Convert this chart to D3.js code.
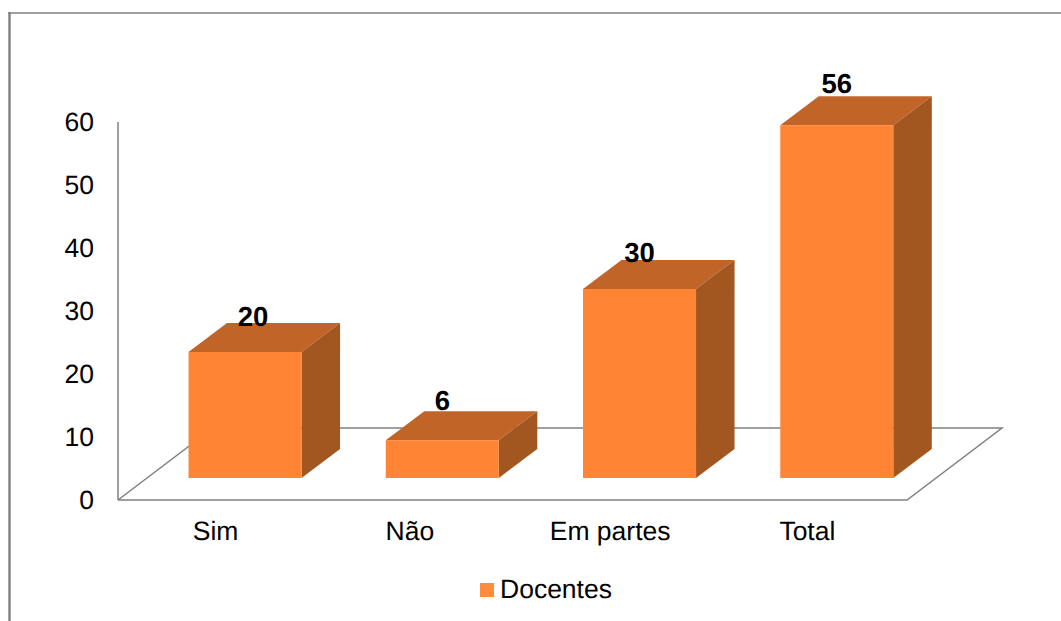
<!DOCTYPE html>
<html>
<head>
<meta charset="utf-8">
<script src="https://cdn.jsdelivr.net/npm/d3@7/dist/d3.min.js"></script>
<style>
html,body{margin:0;padding:0;background:#fff;overflow:hidden}
svg{display:block}
text{font-family:"Liberation Sans",Arial,sans-serif;text-rendering:geometricPrecision}
</style>
</head>
<body>
<svg id="chart" width="1061" height="621"></svg>
<script>
const categories = ["Sim", "Não", "Em partes", "Total"];
const docentes = [20, 6, 30, 56];
const yTicks = [0, 10, 20, 30, 40, 50, 60];
const seriesName = "Docentes";

const svg = d3.select("#chart");
const lineColor = "#808080";
const fontSize = 26.5;
const depth = {dx: 38.5, dy: -29};
const floorLift = 22;

// Bars stand on a floor set back from the front edge of the axis.
const y = d3.scaleLinear().domain([0, 60]).range([500, 122]);
const x = d3.scaleBand().domain(categories).range([146.4, 935.4]).paddingInner(0.427).paddingOuter(0.2135);
const xLabel = d3.scaleBand().domain(categories).range([118, 907]);

// Outer frame of the chart area: heavier on the left, lighter along the top
svg.append("line").attr("x1", 9.5).attr("x2", 9.5).attr("y1", 12).attr("y2", 621)
  .attr("stroke", lineColor).attr("stroke-width", 2.4);
svg.append("line").attr("x1", 8).attr("x2", 1061).attr("y1", 13).attr("y2", 13)
  .attr("stroke", lineColor).attr("stroke-width", 1.6);

// Floor and back wall
const floorBack = {dx: 95, dy: -72};
svg.append("path")
  .attr("d", d3.line()([
    [xLabel.range()[0], y(0)],
    [xLabel.range()[1], y(0)],
    [xLabel.range()[1] + floorBack.dx, y(0) + floorBack.dy],
    [xLabel.range()[0] + floorBack.dx, y(0) + floorBack.dy],
    [xLabel.range()[0], y(0)]
  ]))
  .attr("fill", "none").attr("stroke", lineColor).attr("stroke-width", 1.5);

// Vertical value axis
svg.append("line")
  .attr("x1", 118).attr("x2", 118)
  .attr("y1", y(60)).attr("y2", y(0))
  .attr("stroke", lineColor).attr("stroke-width", 1.5);

// Value labels on the axis
svg.append("g").selectAll("text").data(yTicks).join("text")
  .attr("x", 94).attr("y", d => y(d))
  .attr("dy", "0.35em").attr("text-anchor", "end")
  .attr("font-size", fontSize).attr("fill", "#000")
  .text(d => d);

// Each bar is a front face, a lit top and a shaded side
const bars = svg.append("g").selectAll("g").data(categories).join("g");
const bx = d => x(d);
const bw = () => x.bandwidth();
const base = y(0) - floorLift;
const barTop = i => base - (y(0) - y(docentes[i]));

bars.append("path").attr("fill", "#c06428")
  .attr("d", (d, i) => d3.line()([
    [bx(d), barTop(i)],
    [bx(d) + depth.dx, barTop(i) + depth.dy],
    [bx(d) + bw() + depth.dx, barTop(i) + depth.dy],
    [bx(d) + bw(), barTop(i)]
  ]) + "Z");
bars.append("path").attr("fill", "#a25620")
  .attr("d", (d, i) => d3.line()([
    [bx(d) + bw(), barTop(i)],
    [bx(d) + bw() + depth.dx, barTop(i) + depth.dy],
    [bx(d) + bw() + depth.dx, base + depth.dy],
    [bx(d) + bw(), base]
  ]) + "Z");
bars.append("rect").attr("fill", "#ff8535")
  .attr("x", d => bx(d)).attr("width", bw())
  .attr("y", (d, i) => barTop(i)).attr("height", (d, i) => base - barTop(i));

// Value labels sit over the top face, hand-placed per bar
const valueNudgeX = {"Sim": 8};
const valueLift = {"Sim": 26, "Não": 30, "Em partes": 27, "Total": 32};
svg.append("g").selectAll("text").data(categories).join("text")
  .attr("x", d => bx(d) + bw() / 2 + (valueNudgeX[d] || 0))
  .attr("y", (d, i) => barTop(i) - valueLift[d])
  .attr("text-anchor", "middle")
  .attr("font-size", 27.5).attr("font-weight", "bold").attr("fill", "#000")
  .text((d, i) => docentes[i]);

// Category labels
const labelNudgeX = {"Não": -3};
svg.append("g").selectAll("text").data(categories).join("text")
  .attr("x", d => xLabel(d) + xLabel.bandwidth() / 2 - 1 + (labelNudgeX[d] || 0))
  .attr("y", 540)
  .attr("text-anchor", "middle")
  .attr("font-size", fontSize).attr("fill", "#000")
  .text(d => d);

// Legend
svg.append("rect").attr("x", 480).attr("y", 583).attr("width", 14).attr("height", 14).attr("fill", "#ff8c3c");
svg.append("text").attr("x", 500).attr("y", 598)
  .attr("font-size", fontSize).attr("fill", "#000").text(seriesName);
</script>
</body>
</html>
